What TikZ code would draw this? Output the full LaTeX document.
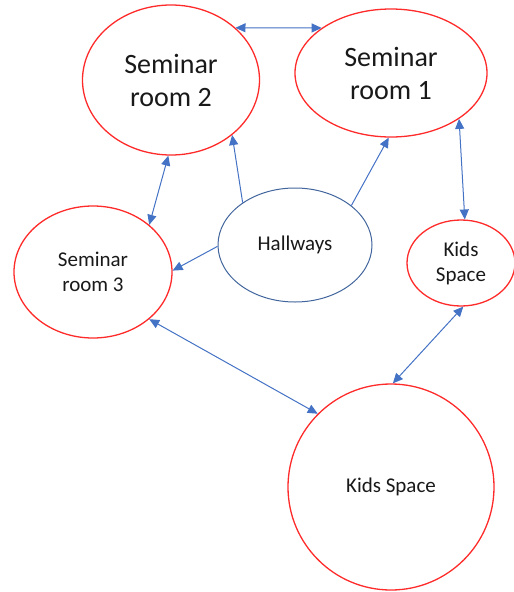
\documentclass[tikz,border=0pt]{standalone}
\usepackage{fontspec}
\setmainfont{Carlito}
\usetikzlibrary{positioning}
\usetikzlibrary{shapes.geometric}
\usetikzlibrary{arrows.meta}
\definecolor{roomred}{HTML}{FF2A2A}
\definecolor{linkblue}{HTML}{4472C4}
\definecolor{hallblue}{HTML}{41659C}

\begin{document}
\begin{tikzpicture}[x=1pt,y=-1pt,
    room/.style={ellipse,draw=roomred,line width=1.3pt,inner sep=0pt,
                 align=center,text=black!90},
    bigtext/.style={font=\fontsize{28}{33}\selectfont},
    smalltext/.style={font=\fontsize{21}{25}\selectfont},
    link/.style={linkblue,line width=1pt,
                 {Triangle[length=10pt,width=9pt]}-{Triangle[length=10pt,width=9pt]}},
    oneway/.style={linkblue,line width=1pt,-{Triangle[length=10pt,width=9pt]}}]
    \useasboundingbox (0,0) rectangle (514,592);

    \node (sr2)  [room, bigtext, minimum width=177pt, minimum height=150pt] at (171,80)  {Seminar\\room 2};
    \node (sr1)  [room, bigtext, minimum width=192pt, minimum height=128pt] at (391,73)  {Seminar\\room 1};
    \node (hall) [room, smalltext, draw=hallblue, line width=1pt,
                  minimum width=154pt, minimum height=114pt]                at (295,245) {Hallways};
    \node (sr3)  [room, smalltext, minimum width=158pt, minimum height=132pt] at (93,272) {Seminar\\room 3};
    \node (kids) [room, smalltext, minimum width=108pt, minimum height=86pt]  at (461,263) {Kids\\Space};
    \node (play) [room, smalltext, minimum width=206pt, minimum height=206pt] at (391,487) {Kids Space};

    \foreach \a/\b in {sr2.39/sr1.147, sr2.-92/sr3.40, sr1.-34/kids.85,
                       sr3.-40/play.135, kids.-87/play.89} {
      \draw[link] (\a) -- (\b);
    }

    \foreach \a/\b in {hall.141/sr2.-42, hall.35/sr1.-92, hall.181/sr3.1} {
      \draw[oneway] (\a) -- (\b);
    }

\end{tikzpicture}
\end{document}
